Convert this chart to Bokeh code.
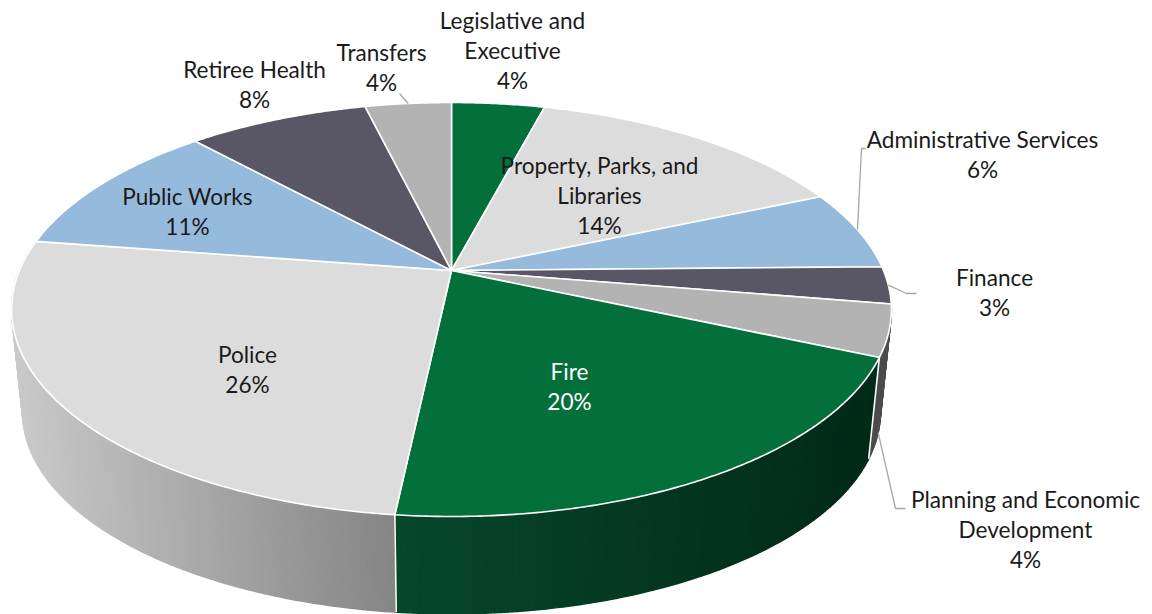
import numpy as np
from bokeh.core.properties import value
from bokeh.embed import file_html
from bokeh.models import ColumnDataSource, Range1d
from bokeh.plotting import figure
from bokeh.resources import INLINE

# Budget shares by department, clockwise from twelve o'clock
departments = [
    "Legislative and Executive", "Property, Parks, and Libraries",
    "Administrative Services", "Finance", "Planning and Economic Development",
    "Fire", "Police", "Public Works", "Retiree Health", "Transfers",
]
shares = [4.1, 14.4, 6.2, 2.9, 4.0, 20.1, 25.7, 10.8, 8.0, 3.8]
top_colors = ["#03703c", "#dcdcdc", "#95badc", "#595766", "#b3b3b3",
              "#03703c", "#dcdcdc", "#95badc", "#595766", "#b3b3b3"]

# Shading of the outer wall (left colour, right colour) for the slices that face the viewer
wall_shades = {
    "Planning and Economic Development": ("#4c4c4c", "#4c4c4c"),
    "Fire": ("#07472a", "#022a18"),
    "Police": ("#cacaca", "#858585"),
}

# Wrapped label lines and their layout: centre x, y of the first line
label_lines = {
    "Legislative and Executive": ["Legislative and", "Executive"],
    "Property, Parks, and Libraries": ["Property, Parks, and", "Libraries"],
    "Administrative Services": ["Administrative Services"],
    "Finance": ["Finance"],
    "Planning and Economic Development": ["Planning and Economic", "Development"],
    "Fire": ["Fire"],
    "Police": ["Police"],
    "Public Works": ["Public Works"],
    "Retiree Health": ["Retiree Health"],
    "Transfers": ["Transfers"],
}
label_anchor = {
    "Legislative and Executive": (512, 20),
    "Property, Parks, and Libraries": (599, 165),
    "Administrative Services": (982, 139),
    "Finance": (994, 277),
    "Planning and Economic Development": (1025, 499),
    "Fire": (569, 371),
    "Police": (247, 354),
    "Public Works": (187, 196),
    "Retiree Health": (254, 69),
    "Transfers": (381, 52),
}

WIDTH, HEIGHT = 1152, 614
APEX_X, APEX_Y = 451.0, 270.0
SCALE_X, SCALE_Y, TILT = 432.0, 199.65, 0.1884
WALL_DROP, WALL_SHRINK = 103.5, 0.975
LINE_STEP = 30
FONT_SIZE = "22.6px"
LEADER = "#a6a6a6"


def project(theta, lower=False):
    """Perspective projection of a point on the pie's rim; theta in radians, clockwise from the top."""
    rim_x, rim_y = np.sin(theta), np.cos(theta)
    w = 1 + TILT * rim_y
    sx, sy = SCALE_X * rim_x / w, -SCALE_Y * rim_y / w
    if lower:
        return APEX_X + WALL_SHRINK * sx, APEX_Y + WALL_DROP + WALL_SHRINK * sy
    return APEX_X + sx, APEX_Y + sy


fractions = np.array(shares) / sum(shares)
edges = np.concatenate([[0.0], np.cumsum(fractions)]) * 2 * np.pi

p = figure(width=WIDTH, height=HEIGHT, output_backend="svg", toolbar_location=None,
           x_range=Range1d(0, WIDTH), y_range=Range1d(HEIGHT, 0), min_border=0,
           background_fill_color="white", border_fill_color="white", outline_line_color=None)
p.axis.visible = False
p.grid.visible = False

# Outer wall: thin shaded strips, painted from back to front
strips = []
for i, name in enumerate(departments):
    if name not in wall_shades:
        continue
    left = np.array([int(wall_shades[name][0][j:j + 2], 16) for j in (1, 3, 5)], float)
    right = np.array([int(wall_shades[name][1][j:j + 2], 16) for j in (1, 3, 5)], float)
    thetas = np.linspace(edges[i], edges[i + 1], max(int((edges[i + 1] - edges[i]) * 90), 2) + 1)
    xs_all = [project(t)[0] for t in thetas]
    span = (min(xs_all), max(xs_all))
    for a, b in zip(thetas[:-1], thetas[1:]):
        ax, ay = project(a)
        bx, by = project(b)
        cx, cy = project(b, True)
        dx, dy = project(a, True)
        t = ((ax + bx) / 2 - span[0]) / max(span[1] - span[0], 1)
        rgb = left + (right - left) * t
        color = "#%02x%02x%02x" % tuple(int(round(c)) for c in rgb)
        strips.append((np.cos((a + b) / 2), [ax, bx, cx, dx], [ay, by, cy, dy], color))
strips.sort(key=lambda s: -s[0])
p.patches([s[1] for s in strips], [s[2] for s in strips], fill_color=[s[3] for s in strips],
          line_color=[s[3] for s in strips], line_width=1.5)

# White seams on the wall where the Fire slice meets its neighbours
i_fire = departments.index("Fire")
for edge in (edges[i_fire], edges[i_fire + 1]):
    tx, ty = project(edge)
    lx, ly = project(edge, True)
    p.line([tx, lx], [ty, ly], line_color="white", line_width=1.6)

# Top face
face_xs, face_ys = [], []
for i in range(len(shares)):
    thetas = np.linspace(edges[i], edges[i + 1], max(int((edges[i + 1] - edges[i]) * 120), 2) + 1)
    rim = [project(t) for t in thetas]
    face_xs.append([APEX_X] + [r[0] for r in rim])
    face_ys.append([APEX_Y] + [r[1] for r in rim])
p.patches(face_xs, face_ys, fill_color=top_colors, line_color="white", line_width=1.6,
          line_join="round")


def mid_angle(name):
    i = departments.index(name)
    return (edges[i] + edges[i + 1]) / 2


# Leader lines from the slices to their outside labels
leaders = {
    "Transfers": ([project(mid_angle("Transfers"))], [(399, 93)]),
    "Administrative Services": ([project(mid_angle("Administrative Services"))], [(861, 148), (865, 148)]),
    "Finance": ([project(mid_angle("Finance"))], [(906, 293), (916, 293)]),
    "Planning and Economic Development": ([project(mid_angle("Planning and Economic Development"), True)],
                                          [(895, 508), (905, 508)]),
}
for start, rest in leaders.values():
    pts = start + rest
    p.line([q[0] for q in pts], [q[1] for q in pts], line_color=LEADER, line_width=1.3)

# Labels: department lines, then the rounded share
text_x, text_y, text_s, text_c = [], [], [], []
for name, share in zip(departments, shares):
    cx, cy = label_anchor[name]
    lines = label_lines[name] + [f"{round(share)}%"]
    for k, line in enumerate(lines):
        text_x.append(cx)
        text_y.append(cy + k * LINE_STEP)
        text_s.append(line)
        text_c.append("white" if name == "Fire" else "#1a1a1a")
p.text(x="x", y="y", text="s", text_color="c", source=ColumnDataSource(dict(x=text_x, y=text_y, s=text_s, c=text_c)),
       text_font=value("Lato"), text_font_size=FONT_SIZE, text_align="center", text_baseline="middle")

open("out.html", "w").write(file_html(p, INLINE))
